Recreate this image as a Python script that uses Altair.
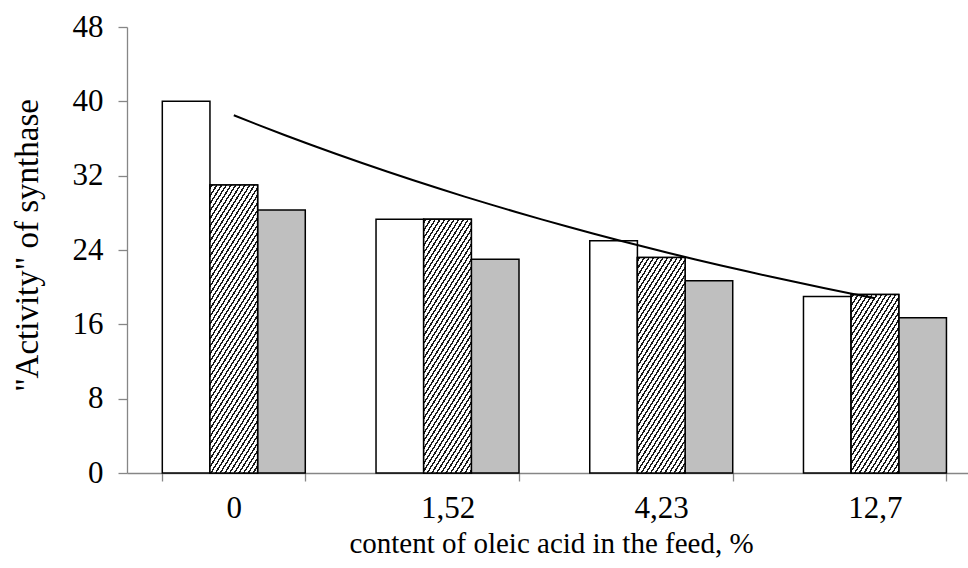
import json
import altair as alt
import pandas as pd

# ---------------- data ----------------
categories = ["0", "1,52", "4,23", "12,7"]
series = ["white", "hatched", "gray"]
white_vals = [40.0, 27.3, 25.0, 19.0]
hatched_vals = [31.0, 27.3, 23.2, 19.2]
gray_vals = [28.3, 23.0, 20.7, 16.7]
y_ticks = [0, 8, 16, 24, 32, 40, 48]

rows = []
for i, c in enumerate(categories):
    rows.append({"cat": c, "series": "white", "val": white_vals[i]})
    rows.append({"cat": c, "series": "hatched", "val": hatched_vals[i]})
    rows.append({"cat": c, "series": "gray", "val": gray_vals[i]})
df = pd.DataFrame(rows)

# ---------------- geometry / style ----------------
W, H = 841, 446
PAD_L, PAD_T, PAD_B = 127, 27, 95
P_IN, P_OUT, ALIGN = 0.331, 0.133, 0.621
N = len(categories)
step = W / (N - P_IN + 2 * P_OUT)
bandw = step * (1 - P_IN)
subw = bandw / len(series)
start = (W - step * (N - P_IN)) * ALIGN
c1 = start + bandw / 2
xq_dom = [1 - c1 / step, 1 + (W - c1) / step]

FONT = "Liberation Serif"
FS_LAB = 31
FS_XT = 29
FS_YT = 33
AX = "#868686"


def hatch(v, m=1.6, sx=4.7, tk=1.7):
    h = v * H / 48.0
    w = subw
    D = h + m * m * w * w / h
    tmax = (m * w + h) / D
    s = tmax * 1.01
    period = m * sx / D / s
    thick = m * tk / D / s
    stops = [{"offset": 0, "color": "white"}]
    k = 0
    while True:
        a = k * period + period * 0.3
        if a >= 1:
            break
        b = min(a + thick, 1)
        stops += [
            {"offset": a, "color": "white"},
            {"offset": a, "color": "#1a1a1a"},
            {"offset": b, "color": "#1a1a1a"},
            {"offset": b, "color": "white"},
        ]
        k += 1
    stops.append({"offset": 1, "color": "white"})
    return {"gradient": "linear", "x1": 0, "y1": 0,
            "x2": s * m * w / h, "y2": s, "stops": stops}


x_enc = alt.X(
    "cat:N",
    sort=categories,
    scale=alt.Scale(domain=categories, paddingInner=P_IN, paddingOuter=P_OUT, align=ALIGN),
    axis=alt.Axis(
        title="content of oleic acid in the feed, %",
        labelAngle=0,
        tickBand="extent",
        tickSize=8,
        labelPadding=12,
        labelFontSize=FS_LAB,
        titleFontSize=FS_XT,
        titleX=424,
        titleY=70,
        titleBaseline="middle",
    ),
)
xoff_enc = alt.XOffset("series:N", sort=series,
                       scale=alt.Scale(domain=series, paddingInner=0, paddingOuter=0))
y_enc = alt.Y(
    "val:Q",
    scale=alt.Scale(domain=[0, 48], nice=False),
    axis=alt.Axis(
        title='"Activity" of synthase',
        values=y_ticks,
        grid=False,
        tickSize=9,
        labelPadding=15,
        labelFontSize=FS_LAB,
        titleFontSize=FS_YT,
        titleX=-100,
        titleY=H / 2 - 5,
        titleAngle=-90,
        titleAlign="center",
        titleBaseline="middle",
    ),
)

base = alt.Chart(df).mark_bar(stroke="black", strokeWidth=1.5).encode(
    x=x_enc,
    xOffset=xoff_enc,
    y=y_enc,
    fill=alt.Fill("series:N", scale=alt.Scale(domain=series, range=["white", "white", "#BFBFBF"]), legend=None),
)

hatch_layers = []
for i, c in enumerate(categories):
    hatch_layers.append(
        alt.Chart(df)
        .transform_filter((alt.datum.series == "hatched") & (alt.datum.cat == c))
        .mark_bar(stroke="black", strokeWidth=1.5, fill=hatch(hatched_vals[i]))
        .encode(x=x_enc, xOffset=xoff_enc, y=y_enc)
    )

bars = alt.layer(base, *hatch_layers)

trend = (
    alt.Chart(df)
    .transform_filter(alt.datum.series == "white")
    .transform_calculate(idx="indexof(" + json.dumps(categories) + ", datum.cat) + 1")
    .transform_regression("idx", "val", method="exp", extent=[1, 4])
    .mark_line(color="black", strokeWidth=2)
    .encode(
        x=alt.X("idx:Q", scale=alt.Scale(domain=xq_dom, nice=False, zero=False), axis=None),
        y=y_enc,
    )
)

chart = (
    alt.layer(bars, trend)
    .resolve_scale(x="independent")
    .properties(
        width=W,
        height=H,
        padding={"left": PAD_L, "top": PAD_T, "right": 0, "bottom": PAD_B},
        autosize=alt.AutoSizeParams(type="none"),
        background="white",
    )
    .configure_view(stroke=None)
    .configure_axis(
        domainColor=AX,
        tickColor=AX,
        domainWidth=1.3,
        tickWidth=1.3,
        labelFont=FONT,
        labelColor="black",
        titleFont=FONT,
        titleFontWeight="normal",
        titleColor="black",
    )
)

chart.save("out.html", embed_options={"renderer": "svg", "actions": False})
